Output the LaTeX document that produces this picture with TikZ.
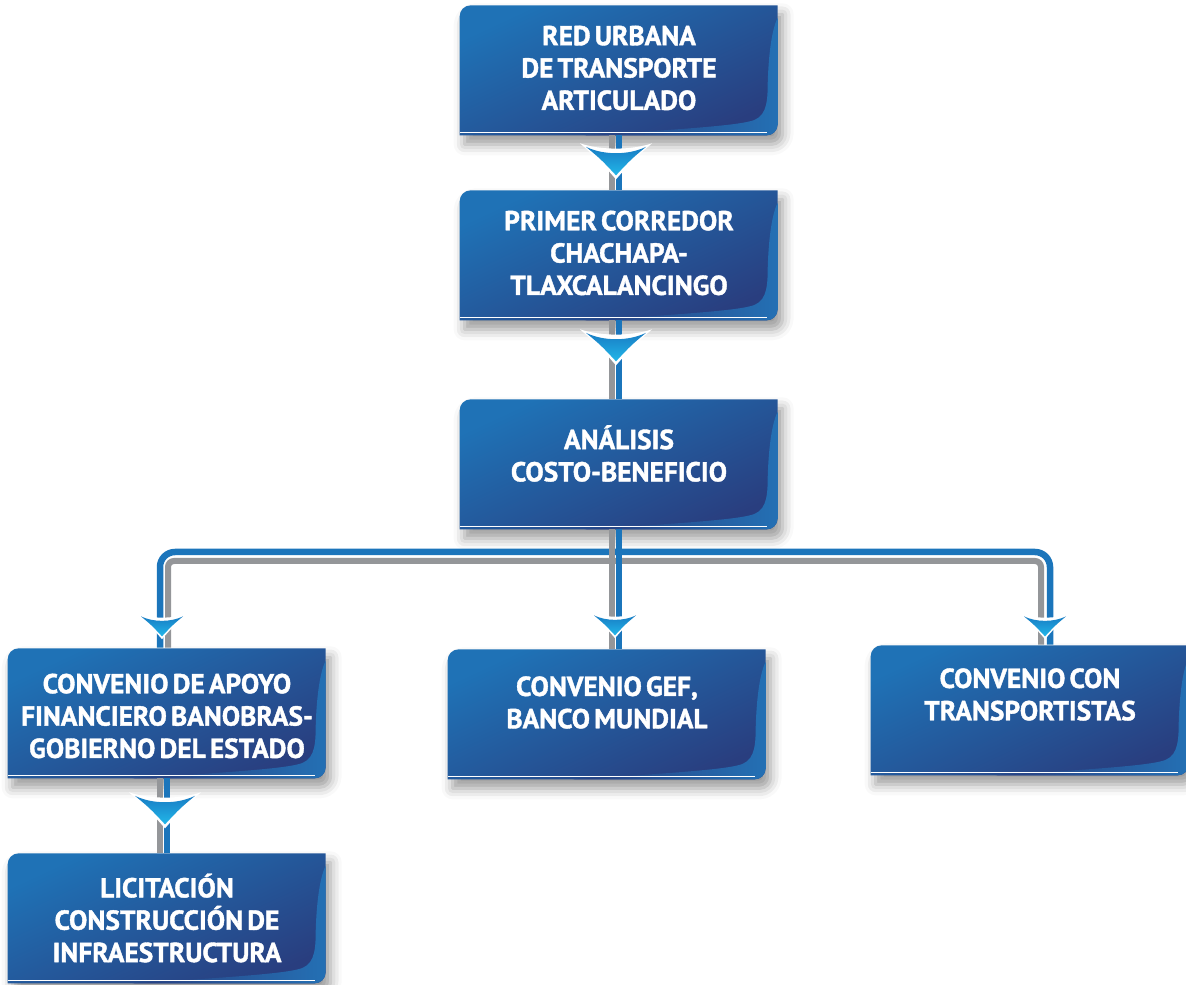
\documentclass[tikz,border=0pt]{standalone}
\usepackage{fontspec}
\setmainfont{PT Sans}
\newfontfamily\panelfont{PT Sans}[BoldFeatures={FakeBold=1.4}, WordSpace=0.6]
\usetikzlibrary{positioning, backgrounds, shadows.blur}
\definecolor{boxtop}{RGB}{31,114,182}
\definecolor{boxbot}{RGB}{41,62,127}
\definecolor{boxcurl}{RGB}{36,112,180}
\definecolor{lineblue}{RGB}{27,117,187}
\definecolor{linegray}{RGB}{148,150,153}
\definecolor{tipblue}{RGB}{24,124,196}
\definecolor{tipcyan}{RGB}{34,183,233}

\tikzset{
  panel/.style={minimum width=6.36cm, minimum height=2.6cm, inner sep=0pt},
  paneltext/.style={text=white, font=\panelfont\bfseries\fontsize{15.6}{18.4}\selectfont,
    align=center, inner sep=0pt},
  grayrail/.style={draw=linegray, line width=0.12cm},
  bluerail/.style={draw=lineblue, line width=0.13cm},
  droptip/.pic={
    \fill[white] (-0.72,0.02) .. controls (-0.3,-0.12) and (0.3,-0.12) .. (0.72,0.02)
      .. controls (0.35,-0.3) .. (0,-0.7) .. controls (-0.35,-0.3) .. cycle;
    \shade[top color=tipblue, bottom color=tipcyan] (-0.6,-0.05)
      .. controls (-0.25,-0.22) and (0.25,-0.22) .. (0.6,-0.05)
      .. controls (0.3,-0.3) .. (0,-0.62) .. controls (-0.3,-0.3) .. cycle;
  }
}

\begin{document}
\begin{tikzpicture}
  \useasboundingbox (0,0) rectangle (23.72,-19.7);

  % panels
  \node[panel] (b1) at (12.38,-1.4) {};
  \node[panel] (b2) at (12.38,-5.1) {};
  \node[panel] (b3) at (12.38,-9.28) {};
  \node[panel] (b4) at (3.34,-14.26) {};
  \node[panel] (b5) at (12.14,-14.28) {};
  \node[panel] (b6) at (20.6,-14.2) {};
  \node[panel] (b7) at (3.34,-18.36) {};

  \begin{scope}[on background layer]
    \foreach \b in {b1,b2,b3,b4,b5,b6,b7}{
      \begin{scope}[shift={(\b.south west)}]
        \path[blur shadow={shadow xshift=0.1cm, shadow yshift=-0.18cm,
            shadow blur radius=0.22cm, shadow opacity=40},
            top color=boxtop, bottom color=boxbot, shading angle=25]
          (0,0) -- (0,2.38) arc[start angle=180, end angle=90, radius=0.22]
          -- (6.36,2.6) -- (6.36,0.22) arc[start angle=0, end angle=-90, radius=0.22]
          -- cycle;
        \path[left color=boxbot, right color=boxcurl]
          (6.36,2.35) -- (6.36,0.22) arc[start angle=0, end angle=-90, radius=0.22]
          -- (2.5,0) .. controls (4.5,0.12) and (5.5,0.2) .. (5.8,0.28)
          .. controls (6.11,0.34) and (6.16,0.6) .. (6.16,1.0)
          .. controls (6.18,1.8) and (6.28,2.2) .. (6.36,2.35) -- cycle;
        \draw[white, line width=0.5pt] (0,0.06) -- (6.14,0.06);
      \end{scope}
    }
  \end{scope}

  \node[paneltext, yshift=0.04cm] (t1) at (b1) {RED URBANA\\DE TRANSPORTE\\ARTICULADO};
  \node[paneltext, yshift=0.04cm] (t2) at (b2) {PRIMER CORREDOR\\CHACHAPA-\\TLAXCALANCINGO};
  \node[paneltext, yshift=0.21cm] (t3) at (b3) {ANÁLISIS\\COSTO-BENEFICIO};
  \node[paneltext, yshift=-0.06cm] (t4) at (b4) {CONVENIO DE APOYO\\FINANCIERO BANOBRAS-\\GOBIERNO DEL ESTADO};
  \node[paneltext, yshift=0.23cm] (t5) at (b5) {CONVENIO GEF,\\BANCO MUNDIAL};
  \node[paneltext, yshift=0.31cm] (t6) at (b6) {CONVENIO CON\\TRANSPORTISTAS};
  \node[paneltext] (t7) at (b7) {LICITACIÓN\\CONSTRUCCIÓN DE\\INFRAESTRUCTURA};

  % bus to the lower row
  \coordinate (busblue) at (12,-11.04);
  \coordinate (busgray) at (12,-11.22);
  \draw[bluerail, rounded corners=0.3cm] ([xshift=-0.14cm]b4.north) |- (busblue)
    -| ([xshift=0.4cm]b6.north);
  \draw[grayrail, rounded corners=0.12cm] ([xshift=0.02cm]b4.north) |- (busgray)
    -| ([xshift=0.22cm]b6.north);

  % straight links
  \foreach \u/\l in {b1/b2, b2/b3, b3/b5, b4/b7}{
    \draw[grayrail] ([xshift=-0.14cm]\u.south) -- ([xshift=-0.14cm]\u.south |- \l.north);
    \draw[bluerail] (\u.south) -- (\u.south |- \l.north);
  }

  % arrow tips
  \pic at ([xshift=-0.06cm, yshift=-0.18cm]b1.south) {droptip};
  \pic at ([xshift=-0.06cm, yshift=-0.2cm]b2.south) {droptip};
  \pic at ([xshift=-0.04cm, yshift=-0.3cm]b4.south) {droptip};
  \pic[scale=0.7] at ([xshift=-0.1cm, yshift=0.66cm]b4.north) {droptip};
  \pic[scale=0.7] at ([xshift=0.16cm, yshift=0.7cm]b5.north) {droptip};
  \pic[scale=0.7] at ([xshift=0.3cm, yshift=0.6cm]b6.north) {droptip};
\end{tikzpicture}
\end{document}
